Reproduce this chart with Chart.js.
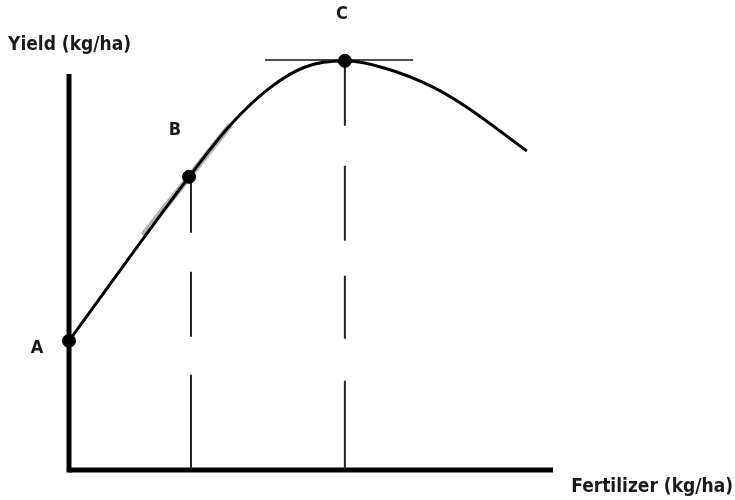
<!DOCTYPE html>
<html>
<head>
<meta charset="utf-8">
<script src="https://cdn.jsdelivr.net/npm/chart.js@4/dist/chart.umd.min.js"></script>
<style>
  html, body { margin: 0; padding: 0; background: #ffffff; }
  #wrap { width: 735px; height: 500px; position: relative; }
</style>
</head>
<body>
<div id="wrap"><canvas id="c" width="735" height="500"></canvas></div>
<script>
// Response curve (fertilizer -> yield), arbitrary units
const curveX = [0, 24.8, 33.3, 41.5, 48.8, 57, 65.3, 75.2, 82.2, 94.6];
const curveY = [31.5, 71.5, 84.1, 93.2, 98.3, 99.8, 98.0, 93.4, 88.5, 77.8];

// Key points
const pointLabels = ['A', 'B', 'C'];
const pointX = [0, 24.8, 57];
const pointY = [31.5, 71.5, 99.8];

// Tangent at B and at C
const tangentBX = [15.3, 33.3];
const tangentBY = [57.3, 84.1];
const tangentCX = [40.5, 71.1];
const tangentCY = [100, 100];

// Axes extents
const axisXMax = 100;
const axisYMax = 96;

// Axis titles
const xTitle = 'Fertilizer (kg/ha)';
const yTitle = 'Yield (kg/ha)';

const toPts = (xs, ys) => xs.map((x, i) => ({ x: x, y: ys[i] }));

const FONT = '"Liberation Sans Narrow", "DejaVu Sans Condensed", "Roboto Condensed", sans-serif';

const labelPlugin = {
  id: 'labels',
  afterDraw(chart) {
    const ctx = chart.ctx;
    const xs = chart.scales.x, ys = chart.scales.y;
    ctx.save();
    ctx.fillStyle = '#1a1a1a';
    ctx.font = 'bold 19px ' + FONT;
    ctx.textBaseline = 'middle';
    ctx.textAlign = 'left';
    ctx.fillText(yTitle, 8, 45);
    ctx.textAlign = 'right';
    ctx.fillText(xTitle, 733, 487);
    ctx.font = 'bold 18px ' + FONT;
    ctx.textAlign = 'center';
    const offs = [[-32, 7], [-14, -47], [-3, -46]];
    pointLabels.forEach((lab, i) => {
      const px = xs.getPixelForValue(pointX[i]) + offs[i][0];
      const py = ys.getPixelForValue(pointY[i]) + offs[i][1];
      ctx.fillText(lab, px, py);
    });
    ctx.restore();
  }
};

new Chart(document.getElementById('c'), {
  type: 'scatter',
  data: {
    datasets: [
      {
        label: 'points',
        data: toPts(pointX, pointY),
        pointRadius: 6.5,
        pointBackgroundColor: '#000',
        pointBorderColor: '#000',
        showLine: false,
        clip: false
      },
      {
        label: 'curve',
        data: toPts(curveX, curveY),
        showLine: true,
        borderColor: '#000',
        borderWidth: 3,
        cubicInterpolationMode: 'monotone',
        pointRadius: 0,
        clip: false
      },
      {
        label: 'tangentC',
        data: toPts(tangentCX, tangentCY),
        showLine: true,
        borderColor: '#111',
        borderWidth: 1.5,
        pointRadius: 0,
        clip: false
      },
      {
        label: 'guideB',
        data: [{ x: pointX[1] + 0.4, y: pointY[1] }, { x: pointX[1] + 0.4, y: 0 }],
        showLine: true,
        borderColor: '#222',
        borderWidth: 2,
        borderDash: [56, 39, 65, 38, 110],
        pointRadius: 0,
        clip: false
      },
      {
        label: 'guideC',
        data: [{ x: pointX[2], y: pointY[2] }, { x: pointX[2], y: 0 }],
        showLine: true,
        borderColor: '#222',
        borderWidth: 2,
        borderDash: [65, 40, 75, 35, 63, 42, 110],
        pointRadius: 0,
        clip: false
      },
      {
        label: 'tangentB',
        data: toPts(tangentBX, tangentBY),
        showLine: true,
        borderColor: '#b5b5b5',
        borderWidth: 6,
        pointRadius: 0,
        clip: false
      },
      {
        label: 'yAxis',
        data: [{ x: 0, y: 0 }, { x: 0, y: axisYMax }],
        showLine: true,
        borderColor: '#000',
        borderWidth: 5,
        borderCapStyle: 'square',
        pointRadius: 0,
        clip: false
      },
      {
        label: 'xAxis',
        data: [{ x: 0, y: 0 }, { x: axisXMax, y: 0 }],
        showLine: true,
        borderColor: '#000',
        borderWidth: 5,
        pointRadius: 0,
        clip: false
      }
    ]
  },
  options: {
    responsive: false,
    animation: false,
    layout: { padding: { left: 69, right: 182, top: 60, bottom: 30 } },
    scales: {
      x: { type: 'linear', display: false, min: 0, max: 100 },
      y: { type: 'linear', display: false, min: 0, max: 100 }
    },
    plugins: {
      legend: { display: false },
      tooltip: { enabled: false },
      title: { display: false }
    }
  },
  plugins: [labelPlugin]
});
</script>
</body>
</html>
